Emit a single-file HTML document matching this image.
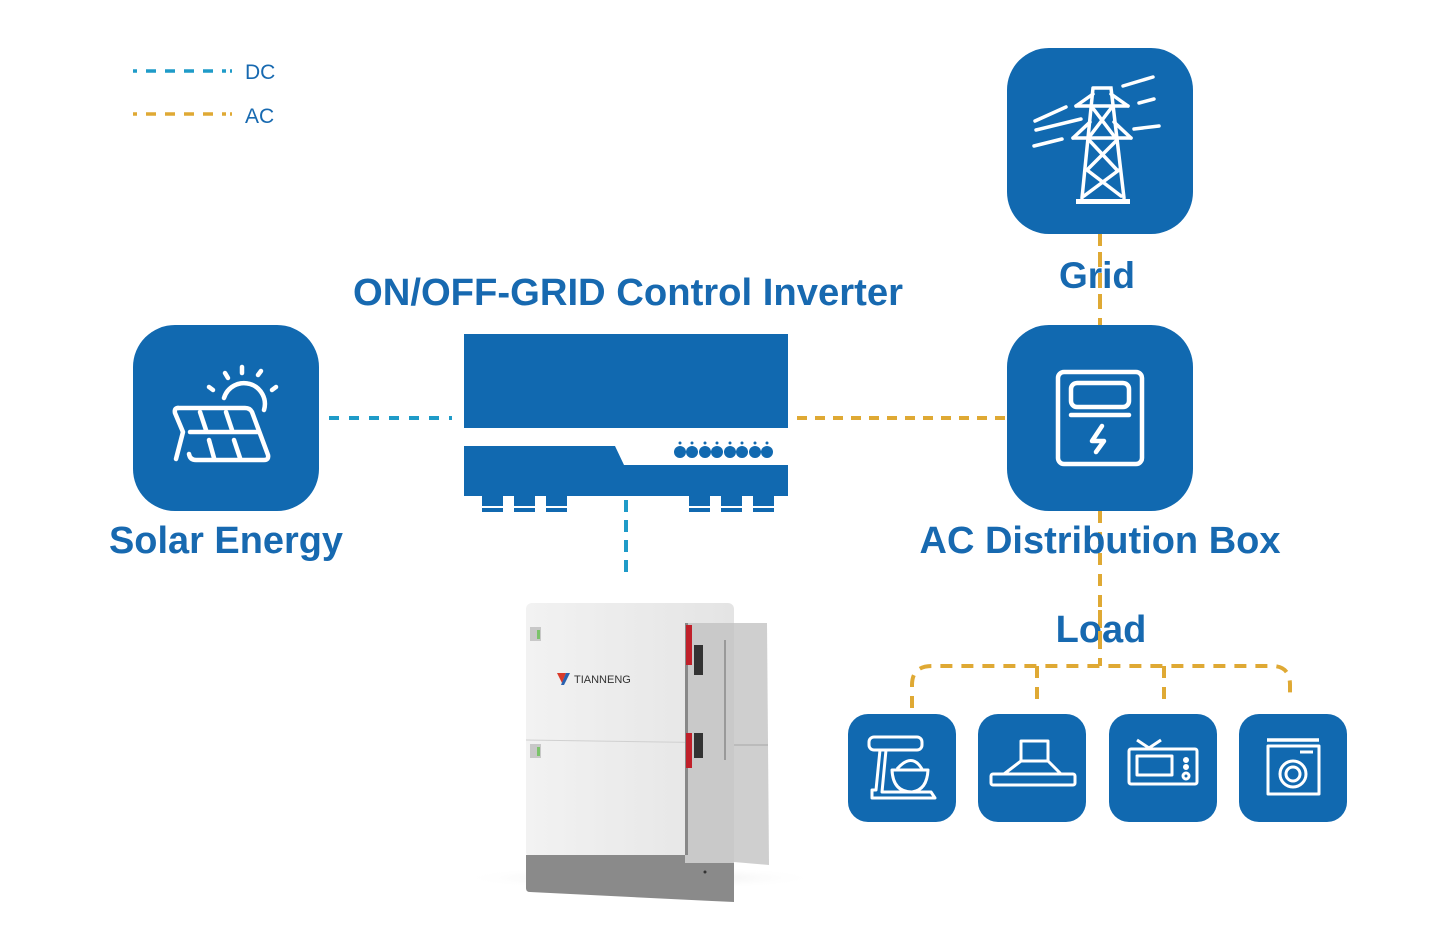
<!DOCTYPE html>
<html><head><meta charset="utf-8"><style>
html,body{margin:0;padding:0;background:#fff;}
svg{display:block}
text{font-family:"Liberation Sans",sans-serif;}
</style></head><body>
<svg width="1454" height="942" viewBox="0 0 1454 942" xmlns="http://www.w3.org/2000/svg">
<!-- legend -->
<line x1="133" y1="71" x2="232" y2="71" stroke="#1f9bc8" stroke-width="3.5" stroke-dasharray="4 9 10 9 10 9 10 9 10 9 4"/>
<text x="245" y="79" font-size="21" fill="#1769b0">DC</text>
<line x1="133" y1="114" x2="232" y2="114" stroke="#dfa934" stroke-width="3.5" stroke-dasharray="4 9 10 9 10 9 10 9 10 9 4"/>
<text x="245" y="123" font-size="21" fill="#1769b0">AC</text>

<!-- connectors -->
<g stroke-width="4" fill="none">
<line x1="329" y1="418" x2="452" y2="418" stroke="#1f9bc8" stroke-dasharray="10 10"/>
<line x1="626" y1="500" x2="626" y2="576" stroke="#1f9bc8" stroke-dasharray="12 8"/>
<line x1="797" y1="418" x2="1006" y2="418" stroke="#dfa934" stroke-dasharray="10 8"/>
<line x1="1100" y1="234" x2="1100" y2="325" stroke="#dfa934" stroke-dasharray="12 9"/>
<line x1="1100" y1="511" x2="1100" y2="666" stroke="#dfa934" stroke-dasharray="12 9"/>
<path d="M912 708 V685 Q912 666 932 666 H1272 Q1290 666 1290 685 V698" stroke="#dfa934" stroke-dasharray="12 9"/>
<line x1="1037" y1="666" x2="1037" y2="708" stroke="#dfa934" stroke-dasharray="12 9"/>
<line x1="1164" y1="666" x2="1164" y2="708" stroke="#dfa934" stroke-dasharray="12 9"/>
</g>

<!-- text labels -->
<text x="628" y="305" font-size="38" font-weight="bold" fill="#1769b0" text-anchor="middle" textLength="550" lengthAdjust="spacingAndGlyphs">ON/OFF-GRID Control Inverter</text>
<text x="1097" y="288" font-size="37" font-weight="bold" fill="#1769b0" text-anchor="middle">Grid</text>
<text x="226" y="553" font-size="38" font-weight="bold" fill="#1769b0" text-anchor="middle" textLength="234" lengthAdjust="spacingAndGlyphs">Solar Energy</text>
<text x="1100" y="553" font-size="38" font-weight="bold" fill="#1769b0" text-anchor="middle" textLength="361" lengthAdjust="spacingAndGlyphs">AC Distribution Box</text>
<text x="1101" y="642" font-size="38" font-weight="bold" fill="#1769b0" text-anchor="middle">Load</text>
<line x1="1100" y1="252" x2="1100" y2="300" stroke="#dfa934" stroke-width="4" stroke-dasharray="12 9"/>
<line x1="1100" y1="610" x2="1100" y2="650" stroke="#dfa934" stroke-width="4" stroke-dasharray="12 9"/>

<!-- big boxes -->
<rect x="133" y="325" width="186" height="186" rx="42" fill="#1169b0"/>
<rect x="1007" y="48" width="186" height="186" rx="42" fill="#1169b0"/>
<rect x="1007" y="325" width="186" height="186" rx="42" fill="#1169b0"/>

<!-- solar icon -->
<g stroke="#fff" stroke-width="4.5" fill="none" stroke-linecap="round" stroke-linejoin="round">
<path d="M178 408 H245 Q250 408 252 412 L268 455 Q269 460 264 460 H196 Q190 460 189 454"/>
<path d="M178 408 Q174 408 175 413 L183 432 L176 459"/>
<line x1="190" y1="432" x2="258" y2="432"/>
<line x1="200" y1="412" x2="206" y2="430"/><line x1="226" y1="412" x2="232" y2="430"/>
<line x1="209" y1="440" x2="214" y2="458"/><line x1="234" y1="440" x2="240" y2="458"/>
<path d="M224 398 A18 18 0 0 1 264 410"/>
<line x1="242" y1="367" x2="242" y2="373"/><line x1="225" y1="373" x2="228" y2="378"/><line x1="258" y1="375" x2="261" y2="371"/>
<line x1="209" y1="387" x2="213" y2="390"/><line x1="272" y1="390" x2="276" y2="387"/>
</g>

<!-- grid tower icon -->
<g stroke="#fff" stroke-width="3.5" fill="none" stroke-linecap="round">
<rect x="1076" y="199" width="54" height="5" fill="#fff" stroke="none"/>
<path d="M1093 88 H1111 L1124 198 M1093 88 L1082 198"/>
<path d="M1076 106 H1128 M1073 138 H1131"/>
<path d="M1076 106 L1093 94 M1128 106 L1111 94 M1073 138 L1090 122 M1131 138 L1114 122"/>
<path d="M1092 107 L1114 136 M1112 107 L1090 136 M1089 140 L1117 170 M1117 140 L1087 170 M1087 170 L1121 196 M1119 170 L1084 196"/>
<line x1="1035" y1="121" x2="1066" y2="107"/><line x1="1036" y1="130" x2="1081" y2="119"/><line x1="1034" y1="146" x2="1062" y2="139"/>
<line x1="1123" y1="86" x2="1153" y2="77"/><line x1="1139" y1="103" x2="1154" y2="99"/><line x1="1134" y1="129" x2="1159" y2="126"/>
</g>

<!-- AC box icon -->
<g stroke="#fff" stroke-width="4.5" fill="none" stroke-linecap="round" stroke-linejoin="round">
<rect x="1058" y="372" width="84" height="92" rx="6"/>
<rect x="1071" y="383" width="58" height="24" rx="6"/>
<line x1="1071" y1="415" x2="1129" y2="415"/>
<path d="M1102 426 L1092 441 H1104 L1096 452" />
</g>

<!-- inverter -->
<rect x="464" y="334" width="324" height="94" fill="#1169b0"/>
<path d="M464 446 H615 L624 465 H788 V496 H464 Z" fill="#1169b0"/>
<g fill="#1169b0">
<rect x="482" y="496" width="21" height="10"/><rect x="514" y="496" width="21" height="10"/><rect x="546" y="496" width="21" height="10"/>
<rect x="689" y="496" width="21" height="10"/><rect x="721" y="496" width="21" height="10"/><rect x="753" y="496" width="21" height="10"/>
<rect x="482" y="508" width="21" height="4"/><rect x="514" y="508" width="21" height="4"/><rect x="546" y="508" width="21" height="4"/>
<rect x="689" y="508" width="21" height="4"/><rect x="721" y="508" width="21" height="4"/><rect x="753" y="508" width="21" height="4"/>
<circle cx="680" cy="452" r="6"/><circle cx="692" cy="452" r="6"/><circle cx="705" cy="452" r="6"/><circle cx="717" cy="452" r="6"/><circle cx="730" cy="452" r="6"/><circle cx="742" cy="452" r="6"/><circle cx="755" cy="452" r="6"/><circle cx="767" cy="452" r="6"/>
<circle cx="680" cy="443" r="1.5"/><circle cx="692" cy="443" r="1.5"/><circle cx="705" cy="443" r="1.5"/><circle cx="717" cy="443" r="1.5"/><circle cx="730" cy="443" r="1.5"/><circle cx="742" cy="443" r="1.5"/><circle cx="755" cy="443" r="1.5"/><circle cx="767" cy="443" r="1.5"/>
</g>

<!-- battery -->
<defs>
<linearGradient id="bw" x1="0" x2="1"><stop offset="0" stop-color="#f2f2f2"/><stop offset="1" stop-color="#e4e4e4"/></linearGradient>
<radialGradient id="sh" cx="0.5" cy="0.5" r="0.5"><stop offset="0" stop-color="#ddd"/><stop offset="1" stop-color="#fff" stop-opacity="0"/></radialGradient>
</defs>
<ellipse cx="640" cy="878" rx="180" ry="12" fill="url(#sh)"/>
<rect x="526" y="603" width="208" height="255" rx="6" fill="url(#bw)"/>
<line x1="526" y1="740" x2="734" y2="743" stroke="#d0d0d0" stroke-width="1"/>
<path d="M526 855 H734 V902 L712 901 L530 892 Q526 892 526 888 Z" fill="#8a8a8a"/>
<rect x="685" y="623" width="49" height="240" fill="#c9c9c9"/>
<rect x="685" y="623" width="3" height="232" fill="#888"/>
<rect x="686" y="625" width="6" height="40" fill="#c0202a"/>
<rect x="686" y="733" width="6" height="35" fill="#c0202a"/>
<rect x="694" y="645" width="9" height="30" fill="#333"/>
<rect x="694" y="733" width="9" height="25" fill="#333"/>
<line x1="725" y1="640" x2="725" y2="760" stroke="#999" stroke-width="2"/>
<path d="M734 623 L767 623 L769 865 L734 862 Z" fill="#cfcfcf"/>
<line x1="734" y1="745" x2="768" y2="745" stroke="#bbb" stroke-width="2"/>
<rect x="530" y="627" width="11" height="14" fill="#c8c8c8"/><rect x="537" y="630" width="3" height="9" fill="#7bc36b"/>
<rect x="530" y="744" width="11" height="14" fill="#c8c8c8"/><rect x="537" y="747" width="3" height="9" fill="#7bc36b"/>
<path d="M557 673 L566 673 L562 683 Z" fill="#d93a2a"/><path d="M566 673 L570 673 L564 685 L561 685 Z" fill="#2a62b0"/>
<text x="574" y="683" font-size="11" fill="#333">TIANNENG</text>
<circle cx="705" cy="872" r="1.5" fill="#333"/>

<!-- load boxes -->
<rect x="848" y="714" width="108" height="108" rx="20" fill="#1169b0"/>
<rect x="978" y="714" width="108" height="108" rx="20" fill="#1169b0"/>
<rect x="1109" y="714" width="108" height="108" rx="20" fill="#1169b0"/>
<rect x="1239" y="714" width="108" height="108" rx="20" fill="#1169b0"/>
<g stroke="#fff" stroke-width="3" fill="none" stroke-linejoin="round">
<!-- mixer -->
<rect x="869" y="737" width="53" height="13" rx="5"/>
<path d="M880 750 L876 790 H872 V798 H935 L931 792 H882 L886 750"/>
<path d="M892 770 Q893 792 912 792 Q927 790 928 770 Z"/>
<path d="M897 769 Q912 752 922 769"/>
<!-- hood -->
<rect x="1021" y="741" width="27" height="20"/>
<path d="M1021 761 L1004 774 M1048 761 L1061 774"/>
<rect x="991" y="774" width="84" height="11" rx="2"/>
<!-- tv -->
<rect x="1129" y="749" width="68" height="35" rx="2"/>
<rect x="1137" y="756" width="35" height="19"/>
<path d="M1137 740 L1149 748 L1161 740"/>
<circle cx="1186" cy="760" r="1.5"/><circle cx="1186" cy="767" r="1.5"/><circle cx="1186" cy="776" r="3"/>
<!-- washer -->
<line x1="1267" y1="740" x2="1319" y2="740" stroke-width="3.5"/>
<rect x="1268" y="746" width="51" height="48"/>
<line x1="1300" y1="752" x2="1313" y2="752"/>
<circle cx="1293" cy="774" r="13"/><circle cx="1293" cy="774" r="7"/>
</g>
</svg>
</body></html>
